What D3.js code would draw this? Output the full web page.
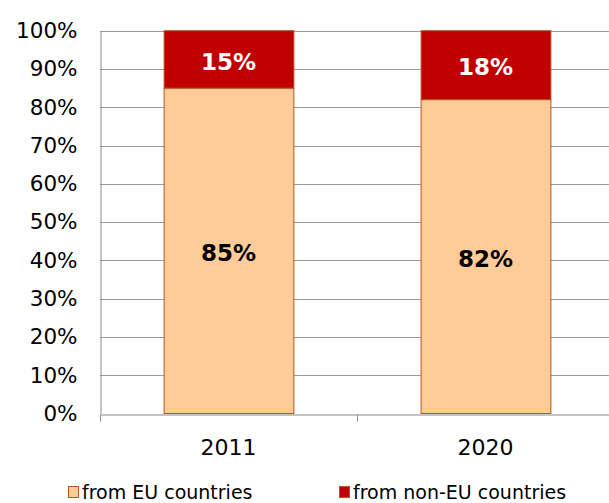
<!DOCTYPE html>
<html><head><meta charset="utf-8">
<script src="https://cdn.jsdelivr.net/npm/d3@7"></script>
<style>html,body{margin:0;padding:0;background:#fff;overflow:hidden}</style>
</head><body>
<svg id="c" width="609" height="503"></svg>
<script>
const categories = ["2011", "2020"];
const euShare = [85, 82];
const nonEuShare = [15, 18];
const seriesNames = ["from EU countries", "from non-EU countries"];
const yTicks = [0, 10, 20, 30, 40, 50, 60, 70, 80, 90, 100];

(function () {
const colors = ["#FFCC99", "#C00000"];
const barStroke = "#B8561C";
const font = "'DejaVu Sans', Verdana, sans-serif";

const svg = d3.select("#c");
const pLeft = 100, pRight = 614, pTop = 30.7, pBottom = 413.5;

const x = d3.scaleBand().domain(categories).range([pLeft, pRight]).padding(0);
const y = d3.scaleLinear().domain([0, 100]).range([pBottom, pTop]);
const barW = x.bandwidth() * 0.505;

// gridlines
svg.append("g").selectAll("line").data(yTicks.filter(d => d > 0)).join("line")
  .attr("x1", pLeft).attr("x2", 609)
  .attr("y1", d => Math.round(y(d)) + 0.5).attr("y2", d => Math.round(y(d)) + 0.5)
  .attr("stroke", "#9a9a9a").attr("stroke-width", 1);

// y axis
const yAxis = d3.axisLeft(y).tickValues(yTicks).tickSize(0).tickPadding(23).tickFormat(d => d + "%");
const gy = svg.append("g").attr("transform", `translate(${pLeft + 0.5},0)`).call(yAxis);
gy.select(".domain").attr("stroke", "#8a8a8a");
gy.selectAll("text").attr("font-family", font).attr("font-size", 21.5).attr("fill", "#000");

// stacked data
const rows = categories.map((c, i) => ({cat: c, eu: euShare[i], nonEu: nonEuShare[i]}));
const stacked = d3.stack().keys(["eu", "nonEu"])(rows);

const gBars = svg.append("g");
stacked.forEach((layer, li) => {
  gBars.append("g").selectAll("rect").data(layer).join("rect")
    .attr("x", d => x(d.data.cat) + (x.bandwidth() - barW) / 2 + 0.5)
    .attr("width", barW)
    .attr("y", d => y(d[1]))
    .attr("height", d => y(d[0]) - y(d[1]))
    .attr("fill", colors[li])
    .attr("stroke", barStroke).attr("stroke-width", 1);
});
stacked.forEach((layer, li) => {
  gBars.append("g").selectAll("text").data(layer).join("text")
    .attr("x", d => x(d.data.cat) + x.bandwidth() / 2)
    .attr("y", d => (y(d[0]) + y(d[1])) / 2 + 2)
    .attr("dy", "0.36em")
    .attr("text-anchor", "middle")
    .attr("font-family", font).attr("font-weight", "bold").attr("font-size", 23)
    .attr("fill", li === 0 ? "#000" : "#fff")
    .text(d => (d[1] - d[0]) + "%");
});

// x axis
const xAxis = d3.axisBottom(x).tickSize(0).tickPadding(25);
const gx = svg.append("g").attr("transform", `translate(0,${Math.round(pBottom) + 0.5})`).call(xAxis);
gx.select(".domain").attr("stroke", "#8a8a8a");
gx.selectAll("text").attr("font-family", font).attr("font-size", 22).attr("fill", "#000");
const bounds = categories.map(c => x(c)).concat([pRight]);
gx.append("g").selectAll("line").data(bounds).join("line")
  .attr("x1", d => Math.round(d) + 0.5).attr("x2", d => Math.round(d) + 0.5)
  .attr("y1", 0).attr("y2", 7).attr("stroke", "#8a8a8a");

// legend
const legX = [68, 339];
const leg = svg.append("g");
seriesNames.forEach((name, i) => {
  leg.append("rect").attr("x", legX[i] + 0.5).attr("y", 486.5).attr("width", 10).attr("height", 11)
    .attr("fill", colors[i]).attr("stroke", barStroke);
  leg.append("text").attr("x", legX[i] + 14).attr("y", 499)
    .attr("font-family", font).attr("font-size", 19).attr("fill", "#000").text(name);
});
})();
</script>
</body></html>
